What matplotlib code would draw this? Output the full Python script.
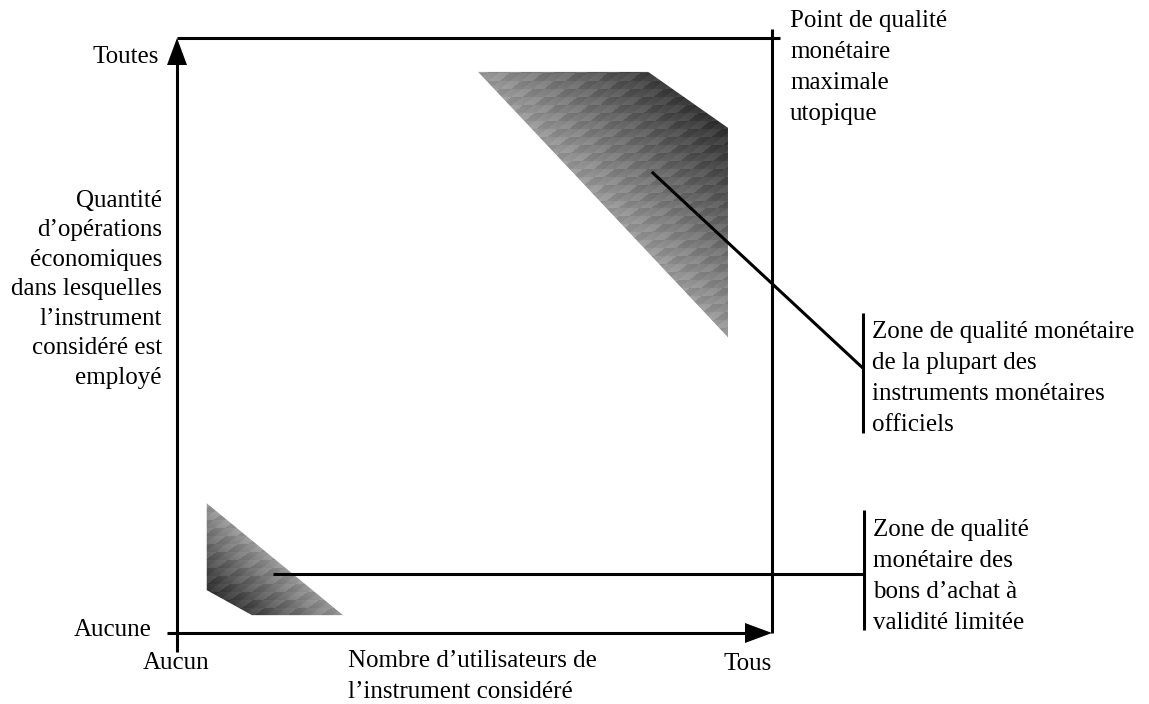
import matplotlib.pyplot as plt
import numpy as np
from matplotlib.patches import Polygon

plt.rcParams['font.family'] = ['Liberation Serif', 'DejaVu Serif']

# diagram units: 0 = aucun / aucune, 1 = tous / toutes
upper_zone_x = [0.506, 0.792, 0.926, 0.926]
upper_zone_y = [0.943, 0.943, 0.849, 0.497]
lower_zone_x = [0.050, 0.050, 0.126, 0.279]
lower_zone_y = [0.218, 0.072, 0.030, 0.030]

upper_callout_x = [0.798, 1.153]
upper_callout_y = [0.775, 0.445]
lower_callout_x = [0.161, 1.155]
lower_callout_y = [0.099, 0.099]

y_label = ["Quantité", "d’opérations", "économiques", "dans lesquelles",
           "l’instrument", "considéré est", "employé"]
x_label = ["Nombre d’utilisateurs de", "l’instrument considéré"]
top_note = ["Point de qualité", "monétaire", "maximale", "utopique"]
upper_note = ["Zone de qualité monétaire", "de la plupart des",
              "instruments monétaires", "officiels"]
lower_note = ["Zone de qualité", "monétaire des", "bons d’achat à",
              "validité limitée"]

# figure layout: 595 px per diagram unit, origin at pixel (177, 633)
W, H = 1149, 704
ox, oy, unit = 177, 633, 595.0
px = 1.0 / unit

fig = plt.figure(figsize=(W / 100, H / 100), dpi=100)
ax = fig.add_axes([0, 0, 1, 1])
ax.set_xlim(-ox / unit, (W - ox) / unit)
ax.set_ylim(-(H - oy) / unit, oy / unit)
ax.axis("off")


def shade(xs, ys, p0, p1, light=0.60, dark=0.20):
    poly = Polygon(np.c_[xs, ys], closed=True, facecolor="none", edgecolor="none")
    ax.add_patch(poly)
    x = np.arange(min(xs) - px, max(xs) + px, px)
    y = np.arange(min(ys) - px, max(ys) + px, px)
    gx, gy = np.meshgrid(x, y)
    v = np.array(p1) - np.array(p0)
    n = np.array([-v[1], v[0]]) / np.hypot(*v)
    d = (gx - p0[0]) * n[0] + (gy - p0[1]) * n[1]
    dv = [(a - p0[0]) * n[0] + (b - p0[1]) * n[1] for a, b in zip(xs, ys)]
    dmax = max(dv, key=abs)
    t = np.clip(d / dmax, 0, 1)
    # blocky mottled texture like the original bitmap
    ci = np.floor((gx - gy * 1.3) / (11 * px)).astype(int)
    cj = np.floor(gy / (8 * px)).astype(int)
    tex = ((ci + 2 * cj) % 3 - 1) * 0.035
    val = light + (dark - light) * t + tex
    im = ax.imshow(val, cmap="gray", vmin=0, vmax=1, origin="lower",
                   extent=[x[0], x[-1], y[0], y[-1]], interpolation="nearest",
                   aspect="auto")
    im.set_clip_path(poly)


shade(upper_zone_x, upper_zone_y,
      (upper_zone_x[0], upper_zone_y[0]), (upper_zone_x[3], upper_zone_y[3]))
shade(lower_zone_x, lower_zone_y,
      (lower_zone_x[3], lower_zone_y[3]), (lower_zone_x[0], lower_zone_y[0]))

lw = 2.2
kw = dict(color="black", lw=lw, solid_capstyle="butt", clip_on=False)

# axes with arrows
ax.plot([0, 0], [-19 * px, 0.96], **kw)
ax.plot([-10 * px, 0.96], [0, 0], **kw)
hl, hw = 27 * px, 10 * px
ax.fill([0, -hw, hw], [1, 1 - hl, 1 - hl], color="black", lw=0)
ax.fill([1, 1 - hl, 1 - hl], [0, hw, -hw], color="black", lw=0)

# box to the utopian point
ax.plot([0, 1 + 8 * px], [1, 1], **kw)
ax.plot([1, 1], [0, 1 + 9 * px], **kw)

# callouts
ax.plot(upper_callout_x, upper_callout_y, **kw)
ax.plot([upper_callout_x[1]] * 2, [0.538, 0.336], **kw)
ax.plot(lower_callout_x, lower_callout_y, **kw)
ax.plot([lower_callout_x[1]] * 2, [0.207, 0.005], **kw)

fs = 18


def lines_at(lines, x, y, ha="left", step=31):
    for i, s in enumerate(lines):
        ax.text(x, y - i * step * px, s, ha=ha, va="baseline", fontsize=fs)


lines_at(["Toutes"], -18 * px, 0.958, ha="right")
lines_at(["Aucune"], -25 * px, -3 * px, ha="right")
lines_at(["Aucun"], -1 * px, -36 * px, ha="center")
lines_at(["Tous"], 1 - 24 * px, -37 * px, ha="center")
lines_at(x_label, 171 * px, -34 * px)
lines_at(y_label, -15 * px, 0.716, ha="right", step=29.5)
lines_at(top_note, 1 + 18 * px, 1 + 11 * px)
lines_at(upper_note, upper_callout_x[1] + 9 * px, 0.496)
lines_at(lower_note, lower_callout_x[1] + 9 * px, 0.163)

fig.savefig("out.png", dpi=100)
